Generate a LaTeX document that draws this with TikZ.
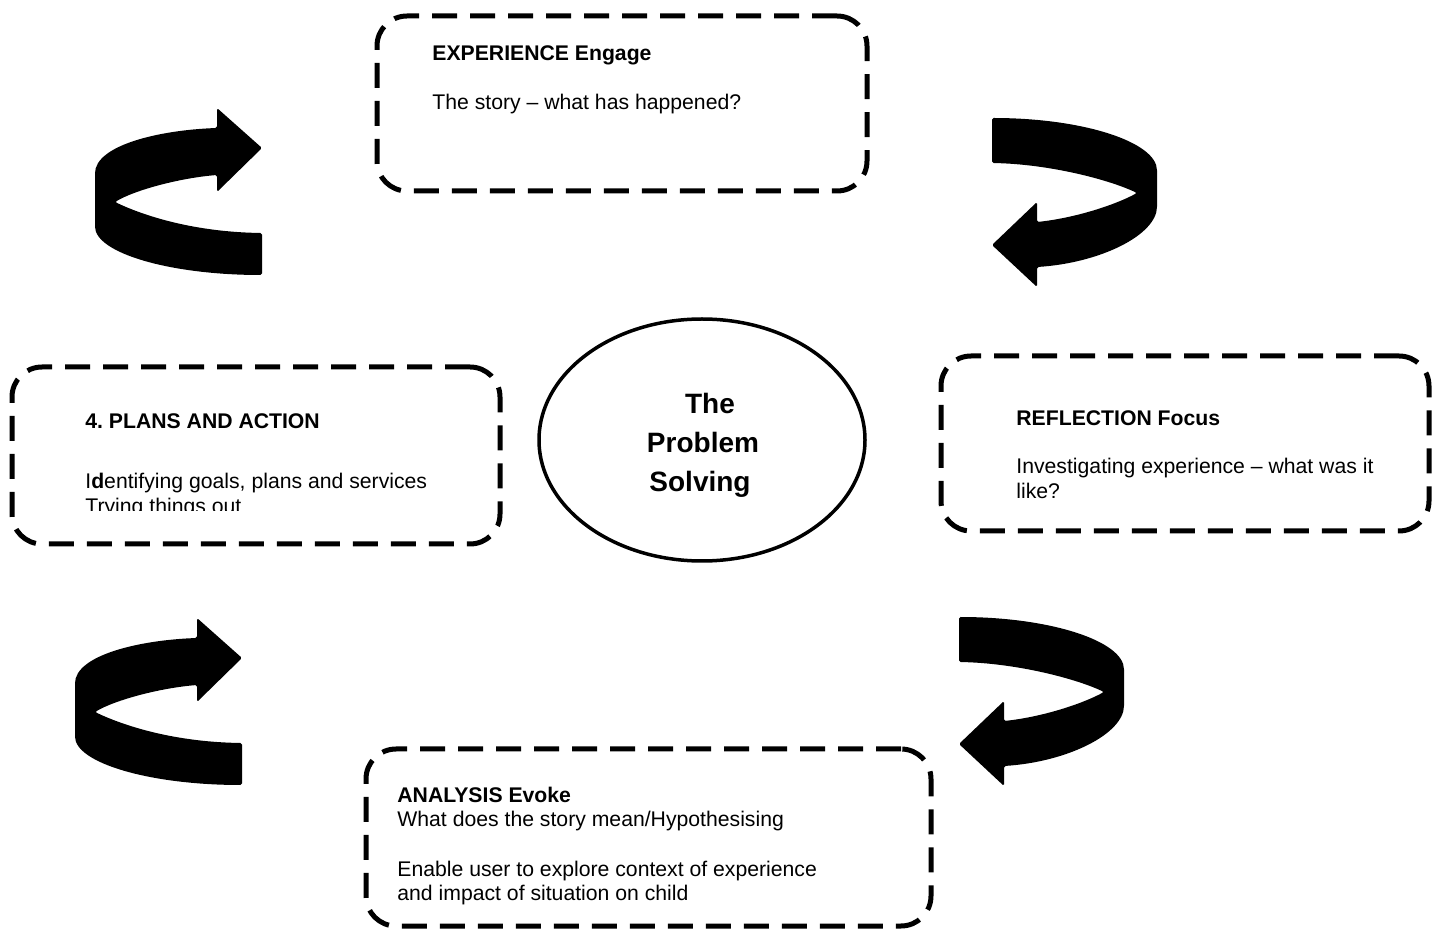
\documentclass[tikz,border=0pt]{standalone}
\usepackage{fontspec}
\setmainfont{Liberation Sans}
\usetikzlibrary{shapes.geometric}
\frenchspacing
\tikzset{
  dashbox/.style={rectangle, draw=black, line width=2.5pt, dash pattern=on 12.5pt off 6.5pt, rounded corners=15pt, inner sep=0pt},
  lbl/.style={anchor=base west, inner sep=0pt, font=\fontsize{10.6}{12.25}\selectfont},
  ttl/.style={lbl, font=\fontsize{10.6}{12.25}\selectfont\bfseries},
  ctr/.style={anchor=base, inner sep=0pt, font=\fontsize{14}{17}\selectfont\bfseries},
  curlright/.pic={
    \fill[black, rounded corners=0.8pt]
      (262,275) .. controls (170,275) and (95,253) .. (95,225)
      -- (95,175) .. controls (95,145) and (160,130) .. (217,128)
      -- (217,108) -- (262,148) -- (217,192) -- (217,175)
      .. controls (180,178) and (135,190) .. (115,202)
      .. controls (140,214) and (190,232) .. (262,233) -- cycle;
  },
  curlleft/.pic={
    \fill[black, rounded corners=0.8pt]
      (992,118) .. controls (1083,118) and (1157,142) .. (1157,172)
      -- (1157,205) .. controls (1157,235) and (1100,263) .. (1037,267)
      -- (1037,287) -- (992,245) -- (1037,202) -- (1037,222)
      .. controls (1075,218) and (1115,205) .. (1137,193)
      .. controls (1110,180) and (1050,164) .. (992,163) -- cycle;
  }
}
\begin{document}
\begin{tikzpicture}[x=0.5pt, y=-0.5pt]
\useasboundingbox (0,0) rectangle (1442,930);
\fill[white] (0,0) rectangle (1442,930);

% boxes
\node[dashbox, minimum width=245pt, minimum height=87.5pt] (exp) at (622,103.5) {};
\node[dashbox, minimum width=244pt, minimum height=87.5pt] (refl) at (1185,443.5) {};
\node[dashbox, minimum width=244pt, minimum height=88.5pt] (plans) at (256,455.5) {};
\node[dashbox, minimum width=282.5pt, minimum height=88.5pt] (anal) at (648.5,837.5) {};

% centre ellipse
\node[ellipse, draw=black, line width=1.75pt, minimum width=163pt, minimum height=121pt, inner sep=0pt] (core) at (702,440) {};
\node[ctr] (core1) at (710,414) {The};
\node[ctr] (core2) at (703,453) {Problem};
\node[ctr] (core3) at (700,492) {Solving};

% experience text
\node[ttl] (exp1) at (432,61) {EXPERIENCE Engage};
\node[lbl] (exp2) at (432,110) {The story – what has happened?};

% reflection text
\node[ttl] (refl1) at (1016,426) {REFLECTION Focus};
\node[lbl] (refl2) at (1016,474) {Investigating experience – what was it};
\node[lbl] (refl3) at (1016,499) {like?};

% plans text
\node[ttl] (plans1) at (85,429) {4. PLANS AND ACTION};
\begin{scope}
  \clip (20,440) rectangle (495,511);
  \node[lbl] (plans2) at (85,489) {I\textbf{d}entifying goals, plans and services};
  \node[lbl] (plans3) at (85,514) {Trying things out};
\end{scope}

% analysis text
\node[ttl] (anal1) at (397,803) {ANALYSIS Evoke};
\node[lbl] (anal2) at (397,827) {What does the story mean/Hypothesising};
\node[lbl] (anal3) at (397,876) {Enable user to explore context of experience};
\node[lbl] (anal4) at (397,900) {and impact of situation on child};

% curved arrows
\pic at (0,0) {curlright};
\pic at (-20,510) {curlright};
\pic at (0,0) {curlleft};
\pic at (-33,499) {curlleft};
\end{tikzpicture}
\end{document}
